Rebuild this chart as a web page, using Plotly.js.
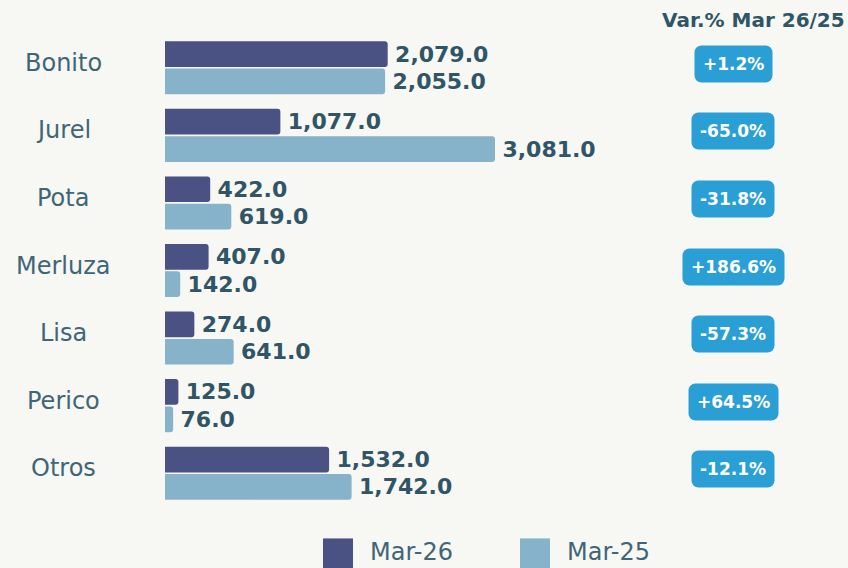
<!DOCTYPE html>
<html>
<head>
<meta charset="utf-8">
<script src="https://cdn.plot.ly/plotly-3.0.1.min.js"></script>
<style>
html,body{margin:0;padding:0;background:#f7f7f3;}
#chart{width:848px;height:568px;}
</style>
</head>
<body>
<div id="chart"></div>
<script>
// ---- data ----
const categories = ["Bonito", "Jurel", "Pota", "Merluza", "Lisa", "Perico", "Otros"];
const mar26 = [2079.0, 1077.0, 422.0, 407.0, 274.0, 125.0, 1532.0];
const mar25 = [2055.0, 3081.0, 619.0, 142.0, 641.0, 76.0, 1742.0];
const variation = ["+1.2%", "-65.0%", "-31.8%", "+186.6%", "-57.3%", "+64.5%", "-12.1%"];
const seriesNames = ["Mar-26", "Mar-25"];
const varTitle = "Var.% Mar 26/25";

// ---- geometry (pixels) ----
const W = 848, H = 568;
const L = 165, R = 640, T = 34, B = 506.6;
const pw = R - L, ph = B - T;
const px = x => (x - L) / pw;
const py = y => (B - y) / ph;

const colDark = "#4a5183", colLight = "#86b3c9";
const textCol = "#2f5566", tickCol = "#3f6677";
const fmt = v => v.toLocaleString("en-US", {minimumFractionDigits: 1, maximumFractionDigits: 1});

const common = {
  type: "bar", orientation: "h", y: categories,
  textposition: "outside", cliponaxis: false, constraintext: "none",
  textfont: {family: "DejaVu Sans", size: 22, color: textCol, weight: "bold"},
  hoverinfo: "skip", showlegend: false
};
const traces = [
  Object.assign({}, common, {name: seriesNames[0], x: mar26, text: mar26.map(v => "\u2009<b>" + fmt(v) + "</b>"), marker: {color: colDark}}),
  Object.assign({}, common, {name: seriesNames[1], x: mar25, text: mar25.map(v => "\u2009<b>" + fmt(v) + "</b>"), marker: {color: colLight}})
];

const annotations = [];
categories.forEach((c, i) => {
  annotations.push({
    xref: "paper", yref: "y", x: px(63), y: c, yshift: 5,
    text: c, showarrow: false, xanchor: "center", yanchor: "middle",
    font: {family: "DejaVu Sans", size: 24, color: tickCol}
  });
  annotations.push({
    xref: "paper", yref: "y", x: px(733), y: c, yshift: 4,
    text: "<b>" + variation[i] + "</b>", showarrow: false, xanchor: "center", yanchor: "middle",
    bgcolor: "#2a9fd6", borderpad: 8,
    font: {family: "DejaVu Sans", size: 17, color: "#ffffff"}
  });
});
annotations.push({
  xref: "paper", yref: "paper", x: px(753.5), y: py(20),
  text: "<b>" + varTitle + "</b>", showarrow: false, xanchor: "center", yanchor: "middle",
  font: {family: "DejaVu Sans", size: 20, color: textCol}
});
// legend
const legendItems = [{x0: 323, tx: 368, col: colDark}, {x0: 520, tx: 565, col: colLight}];
const shapes = [];
legendItems.forEach((it, i) => {
  shapes.push({type: "rect", xref: "paper", yref: "paper",
    x0: px(it.x0), x1: px(it.x0 + 30), y0: py(538), y1: py(568),
    fillcolor: it.col, line: {width: 0}});
  annotations.push({xref: "paper", yref: "paper", x: px(it.tx), y: py(552),
    text: seriesNames[i], showarrow: false, xanchor: "left", yanchor: "middle",
    font: {family: "DejaVu Sans", size: 24, color: tickCol}});
});

const layout = {
  width: W, height: H,
  margin: {l: L, r: W - R, t: T, b: H - B, pad: 0},
  paper_bgcolor: "#f7f7f3", plot_bgcolor: "#f7f7f3",
  barmode: "group", bargap: 0.19, bargroupgap: 0.06, barcornerradius: 3,
  xaxis: {range: [0, pw / 0.10711], showgrid: false, zeroline: false, showticklabels: false, showline: false, ticks: "", fixedrange: true},
  yaxis: {autorange: "reversed", showgrid: false, zeroline: false, showticklabels: false, showline: false, ticks: "", fixedrange: true, type: "category"},
  annotations: annotations, shapes: shapes,
  showlegend: false
};

Plotly.newPlot("chart", traces, layout, {displayModeBar: false, staticPlot: true}).then(() => {
  document.querySelectorAll(".annotation-text-g rect.bg").forEach(r => {
    const f = r.style.fill || "";
    if (f.indexOf("42, 159, 214") >= 0) { r.setAttribute("rx", 7); r.setAttribute("ry", 7); }
  });
});
</script>
</body>
</html>
